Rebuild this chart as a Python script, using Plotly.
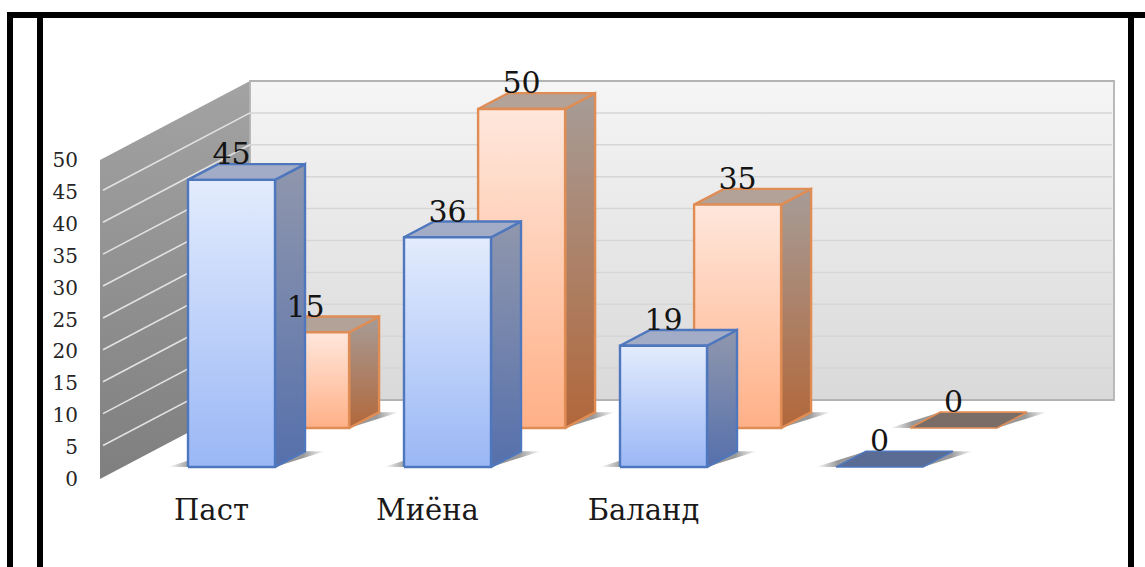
import plotly.graph_objects as go

categories = ["Паст", "Миёна", "Баланд", ""]
series_blue = [45, 36, 19, 0]
series_orange = [15, 50, 35, 0]
y_ticks = [0, 5, 10, 15, 20, 25, 30, 35, 40, 45, 50]

W, H = 1145, 567
PX_PER_UNIT = 6.38      # vertical pixels per value unit
FLOOR_PY = 479          # pixel row of value 0 at the front of the left wall
DEPTH_X, DEPTH_Y = 150, 79  # pixel shift of the full chart depth
X0, SLOT = 165.2, 216   # horizontal origin and category spacing
BAR_W, BAR_D = 87, 0.2
D_BLUE, D_ORANGE = 0.152, 0.646


def proj(x, d, v):
    """Oblique projection to (x axis units, y axis units = value units)."""
    return x + DEPTH_X * d, v + DEPTH_Y * d / PX_PER_UNIT


def poly(points):
    pts = [proj(*p) for p in points]
    pts.append(pts[0])
    return [p[0] for p in pts], [p[1] for p in pts]


fig = go.Figure()


def face(points, grad=None, solid=None, line=None, lw=2.4, hgrad=None):
    xs, ys = poly(points)
    kw = dict(x=xs, y=ys, mode="lines", fill="toself", hoverinfo="skip",
              showlegend=False,
              line=dict(color=line or "rgba(0,0,0,0)", width=lw if line else 0))
    if grad:
        kw["fillgradient"] = dict(type="vertical", colorscale=[[0, grad[0]], [1, grad[1]]])
        kw["fillcolor"] = grad[0]
    elif hgrad:
        kw["fillgradient"] = dict(type="horizontal", colorscale=hgrad)
        kw["fillcolor"] = hgrad[1][1]
    else:
        kw["fillcolor"] = solid
    fig.add_trace(go.Scatter(**kw))


def seg(a, b, color, width):
    xs, ys = zip(proj(*a), proj(*b))
    fig.add_trace(go.Scatter(x=list(xs), y=list(ys), mode="lines", hoverinfo="skip",
                             showlegend=False, line=dict(color=color, width=width)))


# left wall and back wall
VMAX = y_ticks[-1]
LEFT = 100
BACK_W = 864
face([(LEFT, 0, 0), (LEFT, 1, 0), (LEFT, 1, VMAX), (LEFT, 0, VMAX)],
     grad=("#7f7f7f", "#a3a3a3"))
face([(LEFT, 1, 0), (LEFT + BACK_W, 1, 0), (LEFT + BACK_W, 1, VMAX), (LEFT, 1, VMAX)],
     grad=("#d9d9d9", "#f5f5f5"), line="#b3b3b3", lw=1.8)
for t in y_ticks[1:-1]:
    seg((LEFT, 0.02, t), (LEFT, 1, t), "#e2e2e2", 1.6)
    seg((LEFT, 1, t), (LEFT + BACK_W - 2, 1, t), "#d6d6d6", 1.5)

SHADOW = [[0, "rgba(120,120,120,0)"], [0.14, "rgba(120,120,120,0.75)"],
          [0.86, "rgba(120,120,120,0.75)"], [1, "rgba(120,120,120,0)"]]


def bar(i, d, v, front, side, top, edge, flat):
    x0 = X0 + SLOT * i
    x1 = x0 + BAR_W
    d1 = d + BAR_D
    # soft floor shadow, stretched along the base corners
    face([(x0 - 20, d, 0), (x1, d, 0), (x1 + 20, d1, 0), (x0, d1, 0)], hgrad=SHADOW)
    if v == 0:
        face([(x0, d, 0), (x1, d, 0), (x1, d1, 0), (x0, d1, 0)], solid=flat, line=edge, lw=1.6)
        return
    face([(x1, d, 0), (x1, d1, 0), (x1, d1, v), (x1, d, v)], grad=side, line=edge)
    face([(x0, d, v), (x1, d, v), (x1, d1, v), (x0, d1, v)], solid=top, line=edge)
    face([(x0, d, 0), (x1, d, 0), (x1, d, v), (x0, d, v)], grad=front, line=edge)


for i, v in enumerate(series_orange):
    bar(i, D_ORANGE, v, ("#ffb087", "#ffe7dc"), ("#b2673a", "#a69c97"),
        "#b3a297", "#df8c55", "#7a6c66")
for i, v in enumerate(series_blue):
    bar(i, D_BLUE, v, ("#9ab7f5", "#e3ecfd"), ("#5670ac", "#9097ad"),
        "#a3acc7", "#4f77bd", "#5a6b94")

# value labels
LABEL_LIFT = 23 / PX_PER_UNIT
lx, ly, lt = [], [], []
for d, vals in ((D_ORANGE, series_orange), (D_BLUE, series_blue)):
    for i, v in enumerate(vals):
        px, py = proj(X0 + SLOT * i + BAR_W / 2, d, v)
        lx.append(px)
        ly.append(py + LABEL_LIFT)
        lt.append(str(v))
fig.add_trace(go.Scatter(x=lx, y=ly, text=lt, mode="text", hoverinfo="skip", showlegend=False,
                         textposition="middle center",
                         textfont=dict(family="DejaVu Serif", size=30, color="#141414")))

# category tick positions
cat_x = [proj(X0 + SLOT * i + BAR_W / 2, D_BLUE, 0)[0] - 20 for i in range(len(categories))]

frame = [(7, 12, 1145, 18), (7, 12, 13, 567), (37, 12, 43, 567), (1128, 12, 1134, 567)]
fig.update_layout(
    width=W, height=H, margin=dict(l=0, r=0, t=0, b=0, pad=0, autoexpand=False),
    paper_bgcolor="white", plot_bgcolor="rgba(0,0,0,0)", showlegend=False,
    xaxis=dict(range=[0, W], domain=[0, 1], showgrid=False, zeroline=False, showline=False,
               tickmode="array", tickvals=cat_x, ticktext=categories, ticks="",
               anchor="free", position=1 - 490 / H, fixedrange=True,
               tickfont=dict(family="DejaVu Serif", size=29, color="#1a1a1a")),
    yaxis=dict(range=[(FLOOR_PY - H) / PX_PER_UNIT, FLOOR_PY / PX_PER_UNIT], domain=[0, 1],
               showgrid=False, zeroline=False, showline=False,
               tickmode="array", tickvals=y_ticks, ticktext=[str(t) for t in y_ticks], ticks="",
               anchor="free", position=78 / W, fixedrange=True,
               tickfont=dict(family="DejaVu Serif", size=20, color="#262626")),
    shapes=[dict(type="rect", xref="paper", yref="paper", x0=a / W, x1=c / W,
                 y0=1 - b / H, y1=1 - d / H, fillcolor="black", line_width=0, layer="above")
            for a, b, c, d in frame],
)

fig.write_html("out.html", config={"displayModeBar": False},
               post_script="document.body.style.margin='0';")
